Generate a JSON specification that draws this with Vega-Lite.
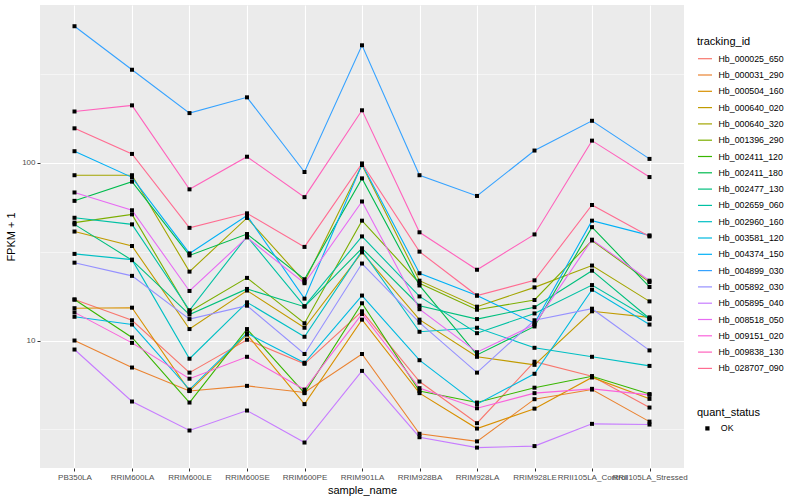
{
  "$schema": "https://vega.github.io/schema/vega-lite/v6.json",
  "width": 644,
  "height": 463,
  "autosize": {"type": "none"},
  "padding": {"left": 40, "top": 5, "right": 116, "bottom": 32},
  "background": "white",
  "data": {"values": [
{"tracking_id":"Hb_000025_650","sample_name":"PB350LA","fpkm":17,"quant_status":"OK"},
{"tracking_id":"Hb_000025_650","sample_name":"RRIM600LA","fpkm":13,"quant_status":"OK"},
{"tracking_id":"Hb_000025_650","sample_name":"RRIM600LE","fpkm":6.6,"quant_status":"OK"},
{"tracking_id":"Hb_000025_650","sample_name":"RRIM600SE","fpkm":10.1,"quant_status":"OK"},
{"tracking_id":"Hb_000025_650","sample_name":"RRIM600PE","fpkm":7.4,"quant_status":"OK"},
{"tracking_id":"Hb_000025_650","sample_name":"RRIM901LA","fpkm":14.6,"quant_status":"OK"},
{"tracking_id":"Hb_000025_650","sample_name":"RRIM928BA","fpkm":5.88,"quant_status":"OK"},
{"tracking_id":"Hb_000025_650","sample_name":"RRIM928LA","fpkm":3.43,"quant_status":"OK"},
{"tracking_id":"Hb_000025_650","sample_name":"RRIM928LE","fpkm":7.6,"quant_status":"OK"},
{"tracking_id":"Hb_000025_650","sample_name":"RRII105LA_Control","fpkm":6.3,"quant_status":"OK"},
{"tracking_id":"Hb_000025_650","sample_name":"RRII105LA_Stressed","fpkm":4.2,"quant_status":"OK"},
{"tracking_id":"Hb_000031_290","sample_name":"PB350LA","fpkm":10,"quant_status":"OK"},
{"tracking_id":"Hb_000031_290","sample_name":"RRIM600LA","fpkm":7.05,"quant_status":"OK"},
{"tracking_id":"Hb_000031_290","sample_name":"RRIM600LE","fpkm":5.2,"quant_status":"OK"},
{"tracking_id":"Hb_000031_290","sample_name":"RRIM600SE","fpkm":5.56,"quant_status":"OK"},
{"tracking_id":"Hb_000031_290","sample_name":"RRIM600PE","fpkm":5.1,"quant_status":"OK"},
{"tracking_id":"Hb_000031_290","sample_name":"RRIM901LA","fpkm":8.4,"quant_status":"OK"},
{"tracking_id":"Hb_000031_290","sample_name":"RRIM928BA","fpkm":2.99,"quant_status":"OK"},
{"tracking_id":"Hb_000031_290","sample_name":"RRIM928LA","fpkm":2.71,"quant_status":"OK"},
{"tracking_id":"Hb_000031_290","sample_name":"RRIM928LE","fpkm":4.68,"quant_status":"OK"},
{"tracking_id":"Hb_000031_290","sample_name":"RRII105LA_Control","fpkm":5.3,"quant_status":"OK"},
{"tracking_id":"Hb_000031_290","sample_name":"RRII105LA_Stressed","fpkm":3.5,"quant_status":"OK"},
{"tracking_id":"Hb_000504_160","sample_name":"PB350LA","fpkm":15.2,"quant_status":"OK"},
{"tracking_id":"Hb_000504_160","sample_name":"RRIM600LA","fpkm":15.3,"quant_status":"OK"},
{"tracking_id":"Hb_000504_160","sample_name":"RRIM600LE","fpkm":5.2,"quant_status":"OK"},
{"tracking_id":"Hb_000504_160","sample_name":"RRIM600SE","fpkm":10.8,"quant_status":"OK"},
{"tracking_id":"Hb_000504_160","sample_name":"RRIM600PE","fpkm":4.39,"quant_status":"OK"},
{"tracking_id":"Hb_000504_160","sample_name":"RRIM901LA","fpkm":13.1,"quant_status":"OK"},
{"tracking_id":"Hb_000504_160","sample_name":"RRIM928BA","fpkm":5.06,"quant_status":"OK"},
{"tracking_id":"Hb_000504_160","sample_name":"RRIM928LA","fpkm":3.2,"quant_status":"OK"},
{"tracking_id":"Hb_000504_160","sample_name":"RRIM928LE","fpkm":4.14,"quant_status":"OK"},
{"tracking_id":"Hb_000504_160","sample_name":"RRII105LA_Control","fpkm":6.2,"quant_status":"OK"},
{"tracking_id":"Hb_000504_160","sample_name":"RRII105LA_Stressed","fpkm":4.7,"quant_status":"OK"},
{"tracking_id":"Hb_000640_020","sample_name":"PB350LA","fpkm":41,"quant_status":"OK"},
{"tracking_id":"Hb_000640_020","sample_name":"RRIM600LA","fpkm":34,"quant_status":"OK"},
{"tracking_id":"Hb_000640_020","sample_name":"RRIM600LE","fpkm":11.6,"quant_status":"OK"},
{"tracking_id":"Hb_000640_020","sample_name":"RRIM600SE","fpkm":19.1,"quant_status":"OK"},
{"tracking_id":"Hb_000640_020","sample_name":"RRIM600PE","fpkm":11.8,"quant_status":"OK"},
{"tracking_id":"Hb_000640_020","sample_name":"RRIM901LA","fpkm":31.3,"quant_status":"OK"},
{"tracking_id":"Hb_000640_020","sample_name":"RRIM928BA","fpkm":13.1,"quant_status":"OK"},
{"tracking_id":"Hb_000640_020","sample_name":"RRIM928LA","fpkm":8.1,"quant_status":"OK"},
{"tracking_id":"Hb_000640_020","sample_name":"RRIM928LE","fpkm":7.3,"quant_status":"OK"},
{"tracking_id":"Hb_000640_020","sample_name":"RRII105LA_Control","fpkm":14.6,"quant_status":"OK"},
{"tracking_id":"Hb_000640_020","sample_name":"RRII105LA_Stressed","fpkm":13.5,"quant_status":"OK"},
{"tracking_id":"Hb_000640_320","sample_name":"PB350LA","fpkm":85,"quant_status":"OK"},
{"tracking_id":"Hb_000640_320","sample_name":"RRIM600LA","fpkm":85,"quant_status":"OK"},
{"tracking_id":"Hb_000640_320","sample_name":"RRIM600LE","fpkm":24.4,"quant_status":"OK"},
{"tracking_id":"Hb_000640_320","sample_name":"RRIM600SE","fpkm":48.9,"quant_status":"OK"},
{"tracking_id":"Hb_000640_320","sample_name":"RRIM600PE","fpkm":21.4,"quant_status":"OK"},
{"tracking_id":"Hb_000640_320","sample_name":"RRIM901LA","fpkm":97,"quant_status":"OK"},
{"tracking_id":"Hb_000640_320","sample_name":"RRIM928BA","fpkm":21.7,"quant_status":"OK"},
{"tracking_id":"Hb_000640_320","sample_name":"RRIM928LA","fpkm":15.5,"quant_status":"OK"},
{"tracking_id":"Hb_000640_320","sample_name":"RRIM928LE","fpkm":19.9,"quant_status":"OK"},
{"tracking_id":"Hb_000640_320","sample_name":"RRII105LA_Control","fpkm":26.4,"quant_status":"OK"},
{"tracking_id":"Hb_000640_320","sample_name":"RRII105LA_Stressed","fpkm":16.6,"quant_status":"OK"},
{"tracking_id":"Hb_001396_290","sample_name":"PB350LA","fpkm":46,"quant_status":"OK"},
{"tracking_id":"Hb_001396_290","sample_name":"RRIM600LA","fpkm":51.2,"quant_status":"OK"},
{"tracking_id":"Hb_001396_290","sample_name":"RRIM600LE","fpkm":14.5,"quant_status":"OK"},
{"tracking_id":"Hb_001396_290","sample_name":"RRIM600SE","fpkm":22.5,"quant_status":"OK"},
{"tracking_id":"Hb_001396_290","sample_name":"RRIM600PE","fpkm":12.5,"quant_status":"OK"},
{"tracking_id":"Hb_001396_290","sample_name":"RRIM901LA","fpkm":47.2,"quant_status":"OK"},
{"tracking_id":"Hb_001396_290","sample_name":"RRIM928BA","fpkm":21,"quant_status":"OK"},
{"tracking_id":"Hb_001396_290","sample_name":"RRIM928LA","fpkm":14.9,"quant_status":"OK"},
{"tracking_id":"Hb_001396_290","sample_name":"RRIM928LE","fpkm":16.9,"quant_status":"OK"},
{"tracking_id":"Hb_001396_290","sample_name":"RRII105LA_Control","fpkm":36.5,"quant_status":"OK"},
{"tracking_id":"Hb_001396_290","sample_name":"RRII105LA_Stressed","fpkm":21.3,"quant_status":"OK"},
{"tracking_id":"Hb_002411_120","sample_name":"PB350LA","fpkm":17,"quant_status":"OK"},
{"tracking_id":"Hb_002411_120","sample_name":"RRIM600LA","fpkm":10.4,"quant_status":"OK"},
{"tracking_id":"Hb_002411_120","sample_name":"RRIM600LE","fpkm":4.48,"quant_status":"OK"},
{"tracking_id":"Hb_002411_120","sample_name":"RRIM600SE","fpkm":11.6,"quant_status":"OK"},
{"tracking_id":"Hb_002411_120","sample_name":"RRIM600PE","fpkm":5.06,"quant_status":"OK"},
{"tracking_id":"Hb_002411_120","sample_name":"RRIM901LA","fpkm":16.2,"quant_status":"OK"},
{"tracking_id":"Hb_002411_120","sample_name":"RRIM928BA","fpkm":5.2,"quant_status":"OK"},
{"tracking_id":"Hb_002411_120","sample_name":"RRIM928LA","fpkm":4.48,"quant_status":"OK"},
{"tracking_id":"Hb_002411_120","sample_name":"RRIM928LE","fpkm":5.43,"quant_status":"OK"},
{"tracking_id":"Hb_002411_120","sample_name":"RRII105LA_Control","fpkm":6.3,"quant_status":"OK"},
{"tracking_id":"Hb_002411_120","sample_name":"RRII105LA_Stressed","fpkm":5.0,"quant_status":"OK"},
{"tracking_id":"Hb_002411_180","sample_name":"PB350LA","fpkm":61,"quant_status":"OK"},
{"tracking_id":"Hb_002411_180","sample_name":"RRIM600LA","fpkm":78.2,"quant_status":"OK"},
{"tracking_id":"Hb_002411_180","sample_name":"RRIM600LE","fpkm":30.1,"quant_status":"OK"},
{"tracking_id":"Hb_002411_180","sample_name":"RRIM600SE","fpkm":39.7,"quant_status":"OK"},
{"tracking_id":"Hb_002411_180","sample_name":"RRIM600PE","fpkm":22.1,"quant_status":"OK"},
{"tracking_id":"Hb_002411_180","sample_name":"RRIM901LA","fpkm":81.6,"quant_status":"OK"},
{"tracking_id":"Hb_002411_180","sample_name":"RRIM928BA","fpkm":20.4,"quant_status":"OK"},
{"tracking_id":"Hb_002411_180","sample_name":"RRIM928LA","fpkm":8.3,"quant_status":"OK"},
{"tracking_id":"Hb_002411_180","sample_name":"RRIM928LE","fpkm":12,"quant_status":"OK"},
{"tracking_id":"Hb_002411_180","sample_name":"RRII105LA_Control","fpkm":43.4,"quant_status":"OK"},
{"tracking_id":"Hb_002411_180","sample_name":"RRII105LA_Stressed","fpkm":20,"quant_status":"OK"},
{"tracking_id":"Hb_002477_130","sample_name":"PB350LA","fpkm":45,"quant_status":"OK"},
{"tracking_id":"Hb_002477_130","sample_name":"RRIM600LA","fpkm":28.3,"quant_status":"OK"},
{"tracking_id":"Hb_002477_130","sample_name":"RRIM600LE","fpkm":14,"quant_status":"OK"},
{"tracking_id":"Hb_002477_130","sample_name":"RRIM600SE","fpkm":19.5,"quant_status":"OK"},
{"tracking_id":"Hb_002477_130","sample_name":"RRIM600PE","fpkm":15.5,"quant_status":"OK"},
{"tracking_id":"Hb_002477_130","sample_name":"RRIM901LA","fpkm":33,"quant_status":"OK"},
{"tracking_id":"Hb_002477_130","sample_name":"RRIM928BA","fpkm":15.7,"quant_status":"OK"},
{"tracking_id":"Hb_002477_130","sample_name":"RRIM928LA","fpkm":13.2,"quant_status":"OK"},
{"tracking_id":"Hb_002477_130","sample_name":"RRIM928LE","fpkm":15.4,"quant_status":"OK"},
{"tracking_id":"Hb_002477_130","sample_name":"RRII105LA_Control","fpkm":24.7,"quant_status":"OK"},
{"tracking_id":"Hb_002477_130","sample_name":"RRII105LA_Stressed","fpkm":13.3,"quant_status":"OK"},
{"tracking_id":"Hb_002659_060","sample_name":"PB350LA","fpkm":49,"quant_status":"OK"},
{"tracking_id":"Hb_002659_060","sample_name":"RRIM600LA","fpkm":45,"quant_status":"OK"},
{"tracking_id":"Hb_002659_060","sample_name":"RRIM600LE","fpkm":14.8,"quant_status":"OK"},
{"tracking_id":"Hb_002659_060","sample_name":"RRIM600SE","fpkm":38.5,"quant_status":"OK"},
{"tracking_id":"Hb_002659_060","sample_name":"RRIM600PE","fpkm":15.6,"quant_status":"OK"},
{"tracking_id":"Hb_002659_060","sample_name":"RRIM901LA","fpkm":38.5,"quant_status":"OK"},
{"tracking_id":"Hb_002659_060","sample_name":"RRIM928BA","fpkm":17.7,"quant_status":"OK"},
{"tracking_id":"Hb_002659_060","sample_name":"RRIM928LA","fpkm":11,"quant_status":"OK"},
{"tracking_id":"Hb_002659_060","sample_name":"RRIM928LE","fpkm":14.2,"quant_status":"OK"},
{"tracking_id":"Hb_002659_060","sample_name":"RRII105LA_Control","fpkm":20.5,"quant_status":"OK"},
{"tracking_id":"Hb_002659_060","sample_name":"RRII105LA_Stressed","fpkm":13.2,"quant_status":"OK"},
{"tracking_id":"Hb_002960_160","sample_name":"PB350LA","fpkm":30.7,"quant_status":"OK"},
{"tracking_id":"Hb_002960_160","sample_name":"RRIM600LA","fpkm":28.5,"quant_status":"OK"},
{"tracking_id":"Hb_002960_160","sample_name":"RRIM600LE","fpkm":7.9,"quant_status":"OK"},
{"tracking_id":"Hb_002960_160","sample_name":"RRIM600SE","fpkm":16.4,"quant_status":"OK"},
{"tracking_id":"Hb_002960_160","sample_name":"RRIM600PE","fpkm":10.5,"quant_status":"OK"},
{"tracking_id":"Hb_002960_160","sample_name":"RRIM901LA","fpkm":32,"quant_status":"OK"},
{"tracking_id":"Hb_002960_160","sample_name":"RRIM928BA","fpkm":11.2,"quant_status":"OK"},
{"tracking_id":"Hb_002960_160","sample_name":"RRIM928LA","fpkm":11.8,"quant_status":"OK"},
{"tracking_id":"Hb_002960_160","sample_name":"RRIM928LE","fpkm":9.1,"quant_status":"OK"},
{"tracking_id":"Hb_002960_160","sample_name":"RRII105LA_Control","fpkm":8.1,"quant_status":"OK"},
{"tracking_id":"Hb_002960_160","sample_name":"RRII105LA_Stressed","fpkm":7.2,"quant_status":"OK"},
{"tracking_id":"Hb_003581_120","sample_name":"PB350LA","fpkm":13.6,"quant_status":"OK"},
{"tracking_id":"Hb_003581_120","sample_name":"RRIM600LA","fpkm":12.3,"quant_status":"OK"},
{"tracking_id":"Hb_003581_120","sample_name":"RRIM600LE","fpkm":5.3,"quant_status":"OK"},
{"tracking_id":"Hb_003581_120","sample_name":"RRIM600SE","fpkm":11,"quant_status":"OK"},
{"tracking_id":"Hb_003581_120","sample_name":"RRIM600PE","fpkm":7.5,"quant_status":"OK"},
{"tracking_id":"Hb_003581_120","sample_name":"RRIM901LA","fpkm":17.9,"quant_status":"OK"},
{"tracking_id":"Hb_003581_120","sample_name":"RRIM928BA","fpkm":7.75,"quant_status":"OK"},
{"tracking_id":"Hb_003581_120","sample_name":"RRIM928LA","fpkm":4.39,"quant_status":"OK"},
{"tracking_id":"Hb_003581_120","sample_name":"RRIM928LE","fpkm":6.5,"quant_status":"OK"},
{"tracking_id":"Hb_003581_120","sample_name":"RRII105LA_Control","fpkm":19.3,"quant_status":"OK"},
{"tracking_id":"Hb_003581_120","sample_name":"RRII105LA_Stressed","fpkm":12.3,"quant_status":"OK"},
{"tracking_id":"Hb_004374_150","sample_name":"PB350LA","fpkm":116,"quant_status":"OK"},
{"tracking_id":"Hb_004374_150","sample_name":"RRIM600LA","fpkm":82.7,"quant_status":"OK"},
{"tracking_id":"Hb_004374_150","sample_name":"RRIM600LE","fpkm":30.9,"quant_status":"OK"},
{"tracking_id":"Hb_004374_150","sample_name":"RRIM600SE","fpkm":50.4,"quant_status":"OK"},
{"tracking_id":"Hb_004374_150","sample_name":"RRIM600PE","fpkm":17.2,"quant_status":"OK"},
{"tracking_id":"Hb_004374_150","sample_name":"RRIM901LA","fpkm":98,"quant_status":"OK"},
{"tracking_id":"Hb_004374_150","sample_name":"RRIM928BA","fpkm":23.9,"quant_status":"OK"},
{"tracking_id":"Hb_004374_150","sample_name":"RRIM928LA","fpkm":17.9,"quant_status":"OK"},
{"tracking_id":"Hb_004374_150","sample_name":"RRIM928LE","fpkm":12.5,"quant_status":"OK"},
{"tracking_id":"Hb_004374_150","sample_name":"RRII105LA_Control","fpkm":47.2,"quant_status":"OK"},
{"tracking_id":"Hb_004374_150","sample_name":"RRII105LA_Stressed","fpkm":39,"quant_status":"OK"},
{"tracking_id":"Hb_004899_030","sample_name":"PB350LA","fpkm":585,"quant_status":"OK"},
{"tracking_id":"Hb_004899_030","sample_name":"RRIM600LA","fpkm":333,"quant_status":"OK"},
{"tracking_id":"Hb_004899_030","sample_name":"RRIM600LE","fpkm":190,"quant_status":"OK"},
{"tracking_id":"Hb_004899_030","sample_name":"RRIM600SE","fpkm":233,"quant_status":"OK"},
{"tracking_id":"Hb_004899_030","sample_name":"RRIM600PE","fpkm":88.6,"quant_status":"OK"},
{"tracking_id":"Hb_004899_030","sample_name":"RRIM901LA","fpkm":457,"quant_status":"OK"},
{"tracking_id":"Hb_004899_030","sample_name":"RRIM928BA","fpkm":85,"quant_status":"OK"},
{"tracking_id":"Hb_004899_030","sample_name":"RRIM928LA","fpkm":65,"quant_status":"OK"},
{"tracking_id":"Hb_004899_030","sample_name":"RRIM928LE","fpkm":117,"quant_status":"OK"},
{"tracking_id":"Hb_004899_030","sample_name":"RRII105LA_Control","fpkm":172,"quant_status":"OK"},
{"tracking_id":"Hb_004899_030","sample_name":"RRII105LA_Stressed","fpkm":105,"quant_status":"OK"},
{"tracking_id":"Hb_005892_030","sample_name":"PB350LA","fpkm":27.4,"quant_status":"OK"},
{"tracking_id":"Hb_005892_030","sample_name":"RRIM600LA","fpkm":23.1,"quant_status":"OK"},
{"tracking_id":"Hb_005892_030","sample_name":"RRIM600LE","fpkm":13.2,"quant_status":"OK"},
{"tracking_id":"Hb_005892_030","sample_name":"RRIM600SE","fpkm":15.7,"quant_status":"OK"},
{"tracking_id":"Hb_005892_030","sample_name":"RRIM600PE","fpkm":8.4,"quant_status":"OK"},
{"tracking_id":"Hb_005892_030","sample_name":"RRIM901LA","fpkm":27.1,"quant_status":"OK"},
{"tracking_id":"Hb_005892_030","sample_name":"RRIM928BA","fpkm":12.6,"quant_status":"OK"},
{"tracking_id":"Hb_005892_030","sample_name":"RRIM928LA","fpkm":6.6,"quant_status":"OK"},
{"tracking_id":"Hb_005892_030","sample_name":"RRIM928LE","fpkm":13,"quant_status":"OK"},
{"tracking_id":"Hb_005892_030","sample_name":"RRII105LA_Control","fpkm":15.1,"quant_status":"OK"},
{"tracking_id":"Hb_005892_030","sample_name":"RRII105LA_Stressed","fpkm":8.8,"quant_status":"OK"},
{"tracking_id":"Hb_005895_040","sample_name":"PB350LA","fpkm":8.9,"quant_status":"OK"},
{"tracking_id":"Hb_005895_040","sample_name":"RRIM600LA","fpkm":4.54,"quant_status":"OK"},
{"tracking_id":"Hb_005895_040","sample_name":"RRIM600LE","fpkm":3.12,"quant_status":"OK"},
{"tracking_id":"Hb_005895_040","sample_name":"RRIM600SE","fpkm":4.04,"quant_status":"OK"},
{"tracking_id":"Hb_005895_040","sample_name":"RRIM600PE","fpkm":2.67,"quant_status":"OK"},
{"tracking_id":"Hb_005895_040","sample_name":"RRIM901LA","fpkm":6.75,"quant_status":"OK"},
{"tracking_id":"Hb_005895_040","sample_name":"RRIM928BA","fpkm":2.86,"quant_status":"OK"},
{"tracking_id":"Hb_005895_040","sample_name":"RRIM928LA","fpkm":2.5,"quant_status":"OK"},
{"tracking_id":"Hb_005895_040","sample_name":"RRIM928LE","fpkm":2.55,"quant_status":"OK"},
{"tracking_id":"Hb_005895_040","sample_name":"RRII105LA_Control","fpkm":3.4,"quant_status":"OK"},
{"tracking_id":"Hb_005895_040","sample_name":"RRII105LA_Stressed","fpkm":3.37,"quant_status":"OK"},
{"tracking_id":"Hb_008518_050","sample_name":"PB350LA","fpkm":68,"quant_status":"OK"},
{"tracking_id":"Hb_008518_050","sample_name":"RRIM600LA","fpkm":54,"quant_status":"OK"},
{"tracking_id":"Hb_008518_050","sample_name":"RRIM600LE","fpkm":19,"quant_status":"OK"},
{"tracking_id":"Hb_008518_050","sample_name":"RRIM600SE","fpkm":38,"quant_status":"OK"},
{"tracking_id":"Hb_008518_050","sample_name":"RRIM600PE","fpkm":21,"quant_status":"OK"},
{"tracking_id":"Hb_008518_050","sample_name":"RRIM901LA","fpkm":60.5,"quant_status":"OK"},
{"tracking_id":"Hb_008518_050","sample_name":"RRIM928BA","fpkm":15,"quant_status":"OK"},
{"tracking_id":"Hb_008518_050","sample_name":"RRIM928LA","fpkm":8.6,"quant_status":"OK"},
{"tracking_id":"Hb_008518_050","sample_name":"RRIM928LE","fpkm":12.3,"quant_status":"OK"},
{"tracking_id":"Hb_008518_050","sample_name":"RRII105LA_Control","fpkm":36.9,"quant_status":"OK"},
{"tracking_id":"Hb_008518_050","sample_name":"RRII105LA_Stressed","fpkm":21.7,"quant_status":"OK"},
{"tracking_id":"Hb_009151_020","sample_name":"PB350LA","fpkm":14.4,"quant_status":"OK"},
{"tracking_id":"Hb_009151_020","sample_name":"RRIM600LA","fpkm":9.7,"quant_status":"OK"},
{"tracking_id":"Hb_009151_020","sample_name":"RRIM600LE","fpkm":6.1,"quant_status":"OK"},
{"tracking_id":"Hb_009151_020","sample_name":"RRIM600SE","fpkm":8.1,"quant_status":"OK"},
{"tracking_id":"Hb_009151_020","sample_name":"RRIM600PE","fpkm":5.3,"quant_status":"OK"},
{"tracking_id":"Hb_009151_020","sample_name":"RRIM901LA","fpkm":14.1,"quant_status":"OK"},
{"tracking_id":"Hb_009151_020","sample_name":"RRIM928BA","fpkm":5.4,"quant_status":"OK"},
{"tracking_id":"Hb_009151_020","sample_name":"RRIM928LA","fpkm":4.16,"quant_status":"OK"},
{"tracking_id":"Hb_009151_020","sample_name":"RRIM928LE","fpkm":5.06,"quant_status":"OK"},
{"tracking_id":"Hb_009151_020","sample_name":"RRII105LA_Control","fpkm":5.35,"quant_status":"OK"},
{"tracking_id":"Hb_009151_020","sample_name":"RRII105LA_Stressed","fpkm":4.95,"quant_status":"OK"},
{"tracking_id":"Hb_009838_130","sample_name":"PB350LA","fpkm":194,"quant_status":"OK"},
{"tracking_id":"Hb_009838_130","sample_name":"RRIM600LA","fpkm":210,"quant_status":"OK"},
{"tracking_id":"Hb_009838_130","sample_name":"RRIM600LE","fpkm":70.8,"quant_status":"OK"},
{"tracking_id":"Hb_009838_130","sample_name":"RRIM600SE","fpkm":108,"quant_status":"OK"},
{"tracking_id":"Hb_009838_130","sample_name":"RRIM600PE","fpkm":64,"quant_status":"OK"},
{"tracking_id":"Hb_009838_130","sample_name":"RRIM901LA","fpkm":197,"quant_status":"OK"},
{"tracking_id":"Hb_009838_130","sample_name":"RRIM928BA","fpkm":40.6,"quant_status":"OK"},
{"tracking_id":"Hb_009838_130","sample_name":"RRIM928LA","fpkm":25,"quant_status":"OK"},
{"tracking_id":"Hb_009838_130","sample_name":"RRIM928LE","fpkm":39.5,"quant_status":"OK"},
{"tracking_id":"Hb_009838_130","sample_name":"RRII105LA_Control","fpkm":133,"quant_status":"OK"},
{"tracking_id":"Hb_009838_130","sample_name":"RRII105LA_Stressed","fpkm":83,"quant_status":"OK"},
{"tracking_id":"Hb_028707_090","sample_name":"PB350LA","fpkm":156,"quant_status":"OK"},
{"tracking_id":"Hb_028707_090","sample_name":"RRIM600LA","fpkm":112,"quant_status":"OK"},
{"tracking_id":"Hb_028707_090","sample_name":"RRIM600LE","fpkm":43,"quant_status":"OK"},
{"tracking_id":"Hb_028707_090","sample_name":"RRIM600SE","fpkm":51.9,"quant_status":"OK"},
{"tracking_id":"Hb_028707_090","sample_name":"RRIM600PE","fpkm":33.6,"quant_status":"OK"},
{"tracking_id":"Hb_028707_090","sample_name":"RRIM901LA","fpkm":99,"quant_status":"OK"},
{"tracking_id":"Hb_028707_090","sample_name":"RRIM928BA","fpkm":31.6,"quant_status":"OK"},
{"tracking_id":"Hb_028707_090","sample_name":"RRIM928LA","fpkm":17.9,"quant_status":"OK"},
{"tracking_id":"Hb_028707_090","sample_name":"RRIM928LE","fpkm":21.8,"quant_status":"OK"},
{"tracking_id":"Hb_028707_090","sample_name":"RRII105LA_Control","fpkm":57.8,"quant_status":"OK"},
{"tracking_id":"Hb_028707_090","sample_name":"RRII105LA_Stressed","fpkm":38.5,"quant_status":"OK"}
  ]},
  "encoding": {
    "x": {
      "field": "sample_name",
      "type": "nominal",
      "sort": ["PB350LA","RRIM600LA","RRIM600LE","RRIM600SE","RRIM600PE","RRIM901LA","RRIM928BA","RRIM928LA","RRIM928LE","RRII105LA_Control","RRII105LA_Stressed"],
      "scale": {"type": "point", "padding": 0.6},
      "axis": {"title": "sample_name", "labelAngle": 0, "labelOverlap": false, "grid": true, "titlePadding": 3}
    },
    "y": {
      "field": "fpkm",
      "type": "quantitative",
      "scale": {"type": "log", "domain": [1.92, 770], "nice": false}
    }
  },
  "layer": [
    {
      "mark": {"type": "line", "strokeWidth": 1.1},
      "encoding": {
        "y": {"field": "fpkm", "type": "quantitative", "scale": {"type": "log", "domain": [1.92, 770], "nice": false},
              "axis": {"title": "FPKM + 1", "values": [10, 100], "format": "d", "grid": true, "titlePadding": 5}},
        "color": {
          "field": "tracking_id",
          "type": "nominal",
          "scale": {"range": ["#F8766D","#EA8331","#D89000","#C09B00","#A3A500","#7CAE00","#39B600","#00BB4E","#00BF7D","#00C1A3","#00BFC4","#00BAE0","#00B0F6","#35A2FF","#9590FF","#C77CFF","#E76BF3","#FA62DB","#FF62BC","#FF6C91"]},
          "legend": {"title": "tracking_id", "orient": "none", "legendX": 657, "legendY": 30.5, "symbolType": "stroke", "symbolSize": 196, "symbolStrokeWidth": 1.2, "rowPadding": 3.3, "titlePadding": 4.2, "labelOffset": 5.5}
        }
      }
    },
    {
      "mark": {"type": "point", "filled": true, "color": "black", "opacity": 1, "size": 16},
      "encoding": {
        "y": {"field": "fpkm", "type": "quantitative", "scale": {"type": "log", "domain": [1.92, 770], "nice": false},
              "axis": {"orient": "right", "values": [3.1623, 31.623, 316.23], "labels": false, "ticks": false, "domain": false, "title": null, "grid": true, "gridWidth": 0.5}},
        "shape": {
          "field": "quant_status",
          "type": "nominal",
          "scale": {"range": ["square"]},
          "legend": {"title": "quant_status", "orient": "none", "legendX": 657, "legendY": 402, "symbolSize": 18, "symbolFillColor": "black", "symbolStrokeColor": "black", "symbolOffset": 6, "titlePadding": 6, "labelOffset": 9}
        }
      }
    }
  ],
  "resolve": {"axis": {"y": "independent"}},
  "config": {
    "view": {"fill": "#EBEBEB", "stroke": null},
    "font": "Liberation Sans",
    "axis": {"domain": false, "gridColor": "#FFFFFF", "gridWidth": 1.1, "tickColor": "#333333", "tickSize": 3, "labelColor": "#4D4D4D", "labelFontSize": 8, "labelFont": "Liberation Sans", "titleFont": "Liberation Sans", "titleFontSize": 11, "titleFontWeight": "normal", "titleColor": "#000000", "labelPadding": 2},
    "legend": {"titleFont": "Liberation Sans", "labelFont": "Liberation Sans", "titleFontSize": 11, "titleFontWeight": "normal", "titleColor": "#000000", "labelFontSize": 8.8, "labelColor": "#000000"}
  }
}
